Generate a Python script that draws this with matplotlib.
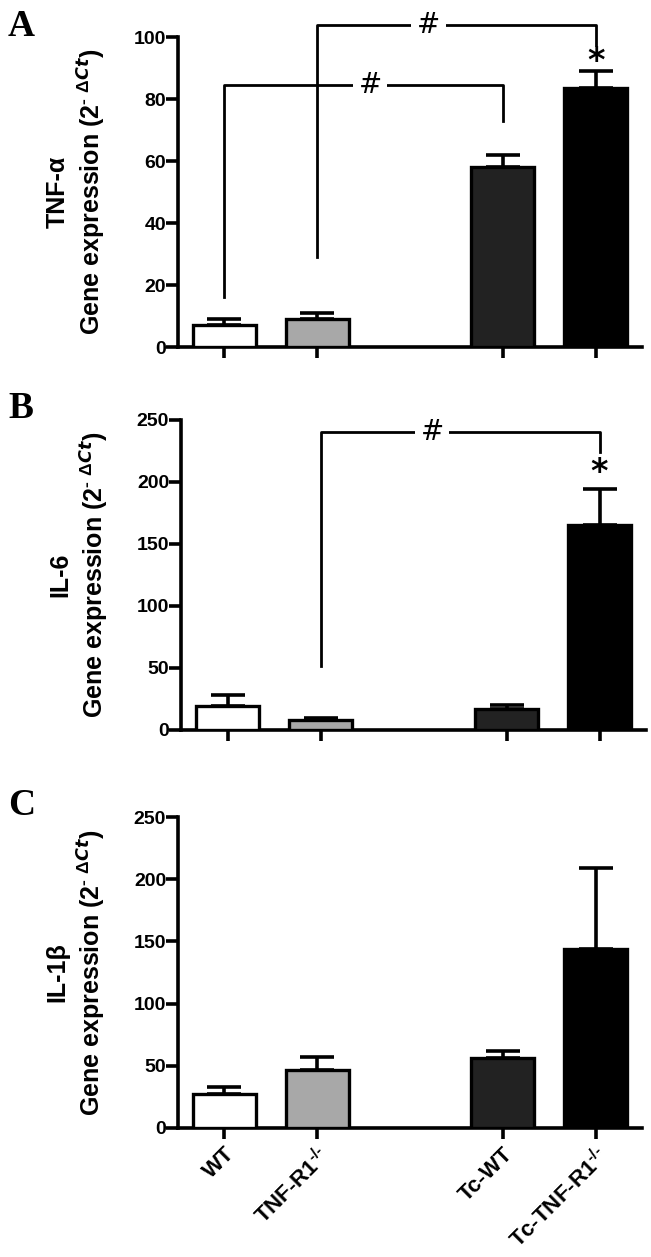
import numpy as np
import matplotlib.pyplot as plt

plt.rcParams['font.family'] = ['Liberation Sans', 'DejaVu Sans']
plt.rcParams['font.weight'] = 'bold'
plt.rcParams['mathtext.fontset'] = 'custom'
plt.rcParams['mathtext.rm'] = 'Liberation Sans'
plt.rcParams['mathtext.bf'] = 'Liberation Sans:bold'

groups = ['WT', r'TNF-R1$^{\text{-/-}}$', 'Tc-WT', r'Tc-TNF-R1$^{\text{-/-}}$']
pos = [0, 1, 3, 4]
colors = ['white', '#a8a8a8', '#222222', 'black']

tnf_mean = [7, 9, 58, 83.5]
tnf_top = [9, 11, 62, 89]
il6_mean = [19, 8, 17, 165]
il6_top = [28, 10, 20, 194]
il1b_mean = [27, 47, 56, 144]
il1b_top = [33, 57, 62, 209]

fig = plt.figure(figsize=(6.51, 12.57), dpi=100)
W, H = 651, 1257

def make_ax(l, r, top, bot):
    return fig.add_axes([l/W, 1 - bot/H, (r - l)/W, (bot - top)/H])

axA = make_ax(178, 642, 37, 347)
axB = make_ax(181, 646, 420, 730)
axC = make_ax(178, 642, 817, 1128)

def panel(ax, mean, top, ymax, step, gene, letter, ly):
    err = np.array(top) - np.array(mean)
    ax.bar(pos, mean, width=0.68, color=colors, edgecolor='black', linewidth=2.4, zorder=3)
    ax.errorbar(pos, mean, yerr=[np.zeros(4), err], fmt='none', ecolor='black',
                elinewidth=2.6, capsize=12, capthick=2.6, zorder=2)
    ax.set_xlim(-0.5, 4.5)
    ax.set_ylim(0, ymax)
    ax.set_yticks(np.arange(0, ymax + 1, step))
    ax.set_xticks(pos)
    for s in ['top', 'right']:
        ax.spines[s].set_visible(False)
    for s in ['left', 'bottom']:
        ax.spines[s].set_linewidth(2.6)
    ax.tick_params(axis='y', direction='out', length=8.5, width=2.6, labelsize=14, pad=0)
    ax.tick_params(axis='x', direction='out', length=8, width=2.6, labelsize=16)
    for t in ax.get_yticklabels():
        t.set_fontweight('bold')
    ax.text(-0.259, 0.5, gene, transform=ax.transAxes, rotation=90, ha='center',
            va='center', fontsize=18, fontweight='bold')
    ax.text(-0.185, 0.5, r'Gene expression (2$^{\text{-}\ \Delta Ct}$)', transform=ax.transAxes,
            rotation=90, ha='center', va='center', fontsize=18, fontweight='bold')
    fig.text(8/W, 1 - ly/H, letter, family='Liberation Serif', fontweight='bold',
             fontsize=27, ha='left', va='top')

def bracket(ax, x1, y1, x2, y2, yh, xs):
    ax.plot([x1, x1, x2, x2], [y1, yh, yh, y2], color='black', lw=2, clip_on=False, zorder=4)
    ax.text(xs, yh, '#', ha='center', va='center', fontsize=20, fontweight='normal',
            family='DejaVu Sans', zorder=5,
            bbox=dict(facecolor='white', edgecolor='none', pad=4))

panel(axA, tnf_mean, tnf_top, 100, 20, 'TNF-α', 'A', 9)
panel(axB, il6_mean, il6_top, 250, 50, 'IL-6', 'B', 391)
panel(axC, il1b_mean, il1b_top, 250, 50, 'IL-1β', 'C', 788)

axA.set_xticklabels([])
axB.set_xticklabels([])
axC.set_xticklabels(groups, rotation=45, ha='right', rotation_mode='anchor',
                    fontweight='bold')
axC.tick_params(axis='x', pad=3)

bracket(axA, 0, 16, 3, 73, 84.5, 1.57)
bracket(axA, 1, 29, 4, 97.5, 104, 2.2)
axA.text(4, 92, '*', ha='center', va='center', fontsize=24, family='DejaVu Sans')

bracket(axB, 1, 52, 4, 224, 240, 2.2)
axB.text(4, 208, '*', ha='center', va='center', fontsize=24, family='DejaVu Sans')

fig.savefig('out.png', dpi=100)
